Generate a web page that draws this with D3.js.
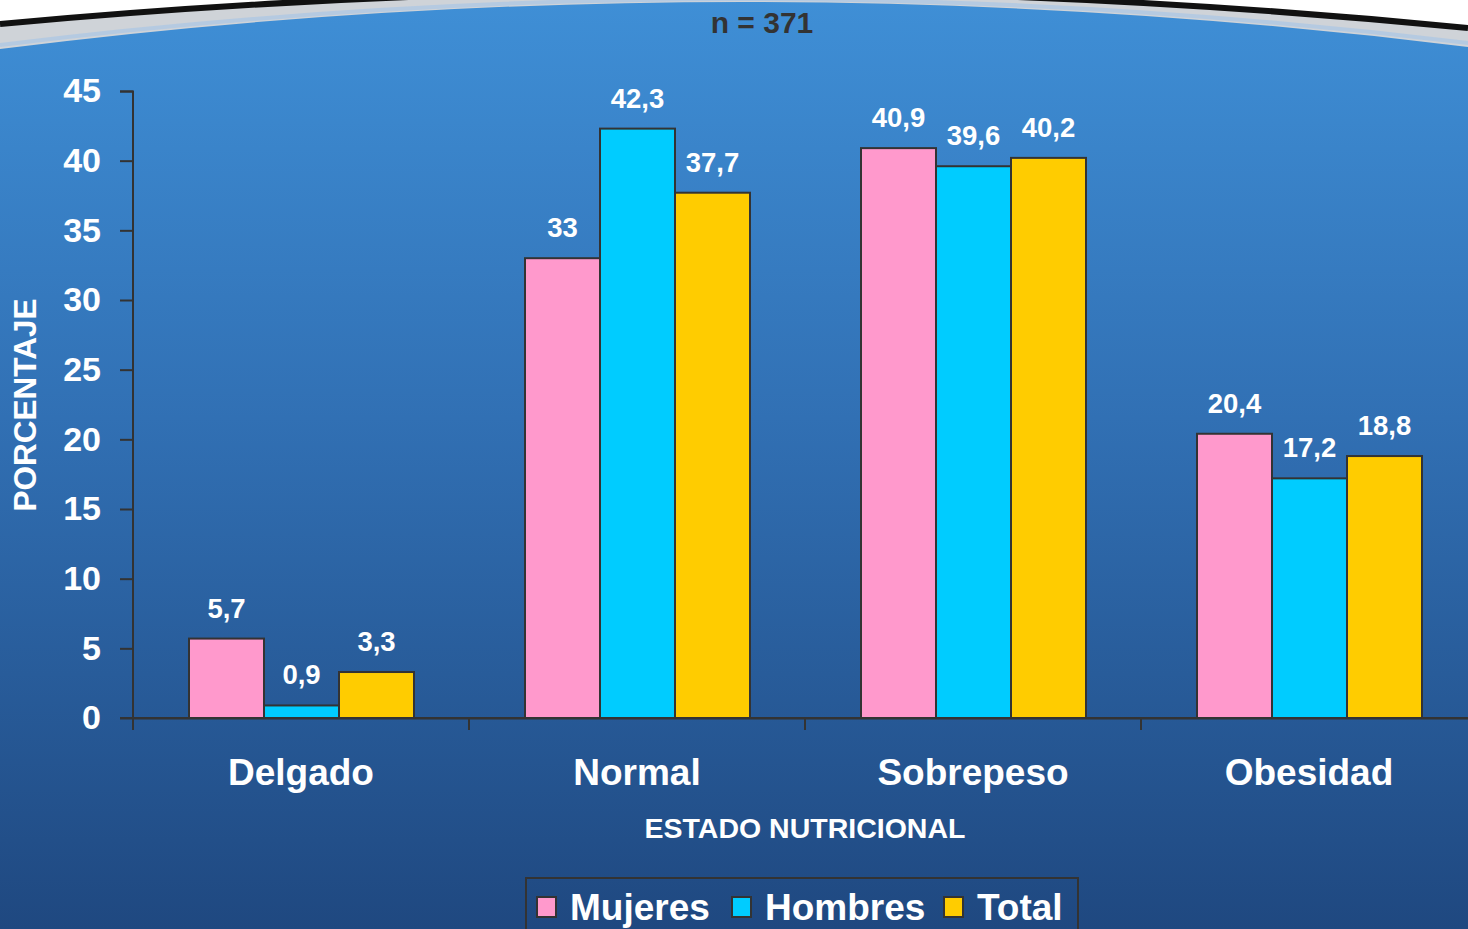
<!DOCTYPE html>
<html><head><meta charset="utf-8">
<script src="https://cdn.jsdelivr.net/npm/d3@7"></script>
<style>html,body{margin:0;padding:0;overflow:hidden;background:#fff}svg{display:block}</style>
</head><body>
<script>
const categories = ["Delgado", "Normal", "Sobrepeso", "Obesidad"];
const series = ["Mujeres", "Hombres", "Total"];
const mujeres = [5.7, 33, 40.9, 20.4];
const hombres = [0.9, 42.3, 39.6, 17.2];
const total = [3.3, 37.7, 40.2, 18.8];
const valueLabels = {
  Mujeres: ["5,7", "33", "40,9", "20,4"],
  Hombres: ["0,9", "42,3", "39,6", "17,2"],
  Total: ["3,3", "37,7", "40,2", "18,8"]
};
const yTicks = [0, 5, 10, 15, 20, 25, 30, 35, 40, 45];
const colors = ["#ff99cc", "#00ccff", "#ffcc00"];

const W = 1468, H = 929;
const F = "'Liberation Sans', Arial, sans-serif";
const svg = d3.select("body").append("svg").attr("width", W).attr("height", H);
const defs = svg.append("defs");
const g1 = defs.append("linearGradient").attr("id", "bg").attr("x1", 0).attr("y1", 0).attr("x2", 0).attr("y2", 1);
g1.append("stop").attr("offset", "0%").attr("stop-color", "#3f8fd6");
g1.append("stop").attr("offset", "45%").attr("stop-color", "#3170b4");
g1.append("stop").attr("offset", "100%").attr("stop-color", "#1f4880");
svg.append("rect").attr("width", W).attr("height", H).attr("fill", "url(#bg)");

// top arc decoration
svg.append("path").attr("d", "M0,0 L0,24 Q734,-44 1468,28 L1468,0 Z").attr("fill", "#ffffff");
svg.append("path").attr("d", "M0,24 Q734,-44 1468,28 L1468,47 Q734,-44 0,49 Z").attr("fill", "#cfd3d8");
svg.append("path").attr("d", "M0,45 Q734,-46 1468,43").attr("fill", "none").attr("stroke", "#a9c6e6").attr("stroke-width", 4).attr("opacity", 0.7);
svg.append("path").attr("d", "M0,24 Q734,-44 1468,28").attr("fill", "none").attr("stroke", "#111").attr("stroke-width", 6);

svg.append("text").attr("x", 762).attr("y", 33).attr("text-anchor", "middle")
  .attr("font-family", F).attr("font-weight", "bold").attr("font-size", 30).attr("fill", "#333")
  .text("n = 371");

const x = d3.scaleBand().domain(categories).range([133, 1477]).padding(0);
const xs = d3.scaleBand().domain(series).range([56, 281]).padding(0);
const y = d3.scaleLinear().domain([0, 45]).range([718, 91]);

// y axis
const yAxis = svg.append("g").attr("transform", "translate(133,0)")
  .call(d3.axisLeft(y).tickValues(yTicks).tickSize(13).tickPadding(19).tickFormat(d3.format("d")));
yAxis.select(".domain").attr("stroke", "#333").attr("stroke-width", 2).attr("d", "M-13,91.5H0V730");
yAxis.selectAll(".tick line").attr("stroke", "#333").attr("stroke-width", 2);
yAxis.selectAll(".tick text").attr("font-family", F).attr("font-weight", "bold").attr("font-size", 34).attr("fill", "#fff");

// x axis
const xAxis = svg.append("g").attr("transform", "translate(0,718)")
  .call(d3.axisBottom(x).tickValues([]).tickSizeOuter(0));
xAxis.select(".domain").attr("stroke", "#333").attr("stroke-width", 2);
xAxis.selectAll(".sep").data(categories).enter().append("line").attr("class", "sep")
  .attr("x1", d => x(d)).attr("x2", d => x(d)).attr("y1", 0).attr("y2", 12)
  .attr("stroke", "#333").attr("stroke-width", 2);

// bars
const dataSeries = [mujeres, hombres, total];
series.forEach((s, si) => {
  const gs = svg.append("g");
  gs.selectAll("rect").data(categories).enter().append("rect")
    .attr("x", d => x(d) + xs(s))
    .attr("y", (d, i) => y(dataSeries[si][i]))
    .attr("width", xs.bandwidth())
    .attr("height", (d, i) => y(0) - y(dataSeries[si][i]))
    .attr("fill", colors[si]).attr("stroke", "#333").attr("stroke-width", 2);
  gs.selectAll("text").data(categories).enter().append("text")
    .attr("x", d => x(d) + xs(s) + xs.bandwidth() / 2)
    .attr("y", (d, i) => y(dataSeries[si][i]) - 21)
    .attr("text-anchor", "middle").attr("font-family", F).attr("font-weight", "bold")
    .attr("font-size", 27.5).attr("fill", "#fff")
    .text((d, i) => valueLabels[s][i]);
});

// re-draw the zero baseline over the bars
svg.append("line").attr("x1", 120).attr("x2", W).attr("y1", 718).attr("y2", 718)
  .attr("stroke", "#333").attr("stroke-width", 2);

// category labels
svg.selectAll(".cat").data(categories).enter().append("text").attr("class", "cat")
  .attr("x", d => x(d) + x.bandwidth() / 2).attr("y", 785)
  .attr("text-anchor", "middle").attr("font-family", F).attr("font-weight", "bold")
  .attr("font-size", 37).attr("fill", "#fff").text(d => d);

svg.append("text").attr("x", 805).attr("y", 838).attr("text-anchor", "middle")
  .attr("font-family", F).attr("font-weight", "bold").attr("font-size", 28.5).attr("fill", "#fff")
  .text("ESTADO NUTRICIONAL");

svg.append("text").attr("transform", "translate(36,405) rotate(-90)").attr("text-anchor", "middle")
  .attr("font-family", F).attr("font-weight", "bold").attr("font-size", 31.5).attr("fill", "#fff")
  .text("PORCENTAJE");

// legend
const lg = svg.append("g");
lg.append("rect").attr("x", 526).attr("y", 878).attr("width", 552).attr("height", 80)
  .attr("fill", "none").attr("stroke", "#333").attr("stroke-width", 2);
const legX = [537, 732, 944];
series.forEach((s, i) => {
  lg.append("rect").attr("x", legX[i]).attr("y", 897).attr("width", 19).attr("height", 20)
    .attr("fill", colors[i]).attr("stroke", "#333").attr("stroke-width", 2);
  lg.append("text").attr("x", legX[i] + 33).attr("y", 920)
    .attr("font-family", F).attr("font-weight", "bold").attr("font-size", 37).attr("fill", "#fff")
    .text(s);
});
</script>
</body></html>
